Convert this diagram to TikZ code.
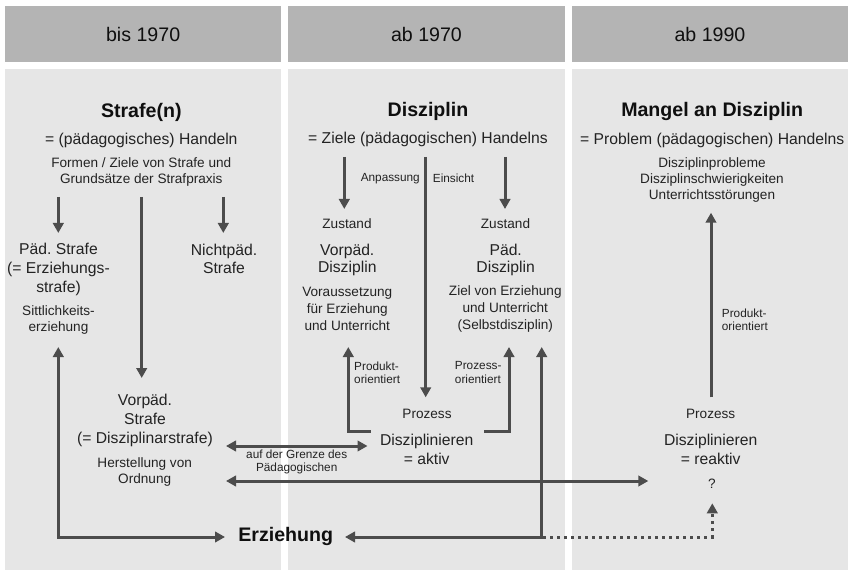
\documentclass[tikz,border=0pt]{standalone}
\usepackage{fontspec}
\setmainfont{Liberation Sans}
\usetikzlibrary{arrows.meta}
\frenchspacing
\definecolor{hdrgray}{RGB}{180,180,180}
\definecolor{bodygray}{RGB}{230,230,230}
\definecolor{arrowc}{RGB}{76,76,76}
\definecolor{txtc}{RGB}{35,35,35}
\definecolor{ttlc}{RGB}{15,15,15}
\tikzset{
  mytip/.tip={Triangle[length=10pt,width=10.5pt]},
  hdr/.style={fill=hdrgray, minimum height=56pt, inner sep=0pt, text=ttlc,
    font=\fontsize{19.6}{22}\selectfont},
  panel/.style={fill=bodygray},
  txt/.style={inner sep=0pt, align=center, text=txtc},
  ttl/.style={txt, text=ttlc, font=\bfseries\fontsize{19.6}{22}\selectfont},
  big/.style={txt, font=\fontsize{15.7}{19}\selectfont},
  bigt/.style={txt, font=\fontsize{15.7}{16.6}\selectfont},
  med/.style={txt, font=\fontsize{13.6}{16.3}\selectfont},
  sml/.style={txt, font=\fontsize{11.8}{13.4}\selectfont},
  arr/.style={draw=arrowc, line width=3pt, -mytip},
  dbl/.style={draw=arrowc, line width=3pt, mytip-mytip},
  dotarr/.style={draw=arrowc, line width=3pt, dash pattern=on 3pt off 4pt, -mytip},
}
\begin{document}
\begin{tikzpicture}[x=1pt,y=-1pt]
\useasboundingbox (0,0) rectangle (849,572);
% header boxes
\node[hdr, minimum width=275.7pt] (H1) at (143.15,34) {bis 1970};
\node[hdr, minimum width=277pt] (H2) at (426.5,34) {ab 1970};
\node[hdr, minimum width=276pt] (H3) at (710,34) {ab 1990};
% body panels
\fill[panel] (5.3,69.3) rectangle (281,570);
\fill[panel] (288,69.3) rectangle (565,570);
\fill[panel] (572,69.3) rectangle (848,570);

% ---------- column 1 ----------
\node[ttl] (t1) at (141.3,112.7) {Strafe(n)};
\node[big] (h1) at (141.3,140) {= (pädagogisches) Handeln};
\node[med] (f1) at (141.3,172) {Formen / Ziele von Strafe und\\Grundsätze der Strafpraxis};
\node[big] (p1) at (58.5,269) {Päd. Strafe\\(= Erziehungs-\\strafe)};
\node[med] (s1) at (58.5,320) {Sittlichkeits-\\erziehung};
\node[big, font=\fontsize{15.7}{18.5}\selectfont] (n1) at (224,259) {Nichtpäd.\\Strafe};
\node[big, font=\fontsize{15.7}{18.8}\selectfont] (v1) at (145,420.3) {Vorpäd.\\Strafe\\(= Disziplinarstrafe)};
\node[med] (o1) at (144.7,472) {Herstellung von\\Ordnung};
\node[sml] (g1) at (296.7,462.2) {auf der Grenze des\\Pädagogischen};
\node[ttl] (erz) at (285.7,536) {Erziehung};

% ---------- column 2 ----------
\node[ttl] (t2) at (428,111.7) {Disziplin};
\node[big] (h2) at (428,139) {= Ziele (pädagogischen) Handelns};
\node[sml, anchor=east] (an) at (420,178.3) {Anpassung};
\node[sml, anchor=west] (ei) at (432.7,178.3) {Einsicht};
\node[med] (z2a) at (347,224) {Zustand};
\node[med] (z2b) at (505.5,224) {Zustand};
\node[bigt] (vd) at (347.3,260) {Vorpäd.\\Disziplin};
\node[bigt] (pd) at (505.7,260) {Päd.\\Disziplin};
\node[med, font=\fontsize{13.6}{16.7}\selectfont] (vo) at (347.3,309) {Voraussetzung\\für Erziehung\\und Unterricht};
\node[med, font=\fontsize{13.6}{16.7}\selectfont] (zi) at (505.3,309) {Ziel von Erziehung\\und Unterricht\\(Selbstdisziplin)};
\node[sml, anchor=west, align=left] (pk) at (354,372.5) {Produkt-\\orientiert};
\node[sml, anchor=east, align=left] (pz) at (501.7,372.5) {Prozess-\\orientiert};
\node[med] (pr2) at (427,414.3) {Prozess};
\node[big, font=\fontsize{15.7}{19.3}\selectfont] (di2) at (426.7,449.7) {Disziplinieren\\= aktiv};

% ---------- column 3 ----------
\node[ttl] (t3) at (712.2,111.7) {Mangel an Disziplin};
\node[big] (h3) at (712.2,140) {= Problem (pädagogischen) Handelns};
\node[med] (dp) at (712,180) {Disziplinprobleme\\Disziplinschwierigkeiten\\Unterrichtsstörungen};
\node[sml, anchor=west, align=left] (pk3) at (721.7,320) {Produkt-\\orientiert};
\node[med] (pr3) at (710.7,414.3) {Prozess};
\node[big, font=\fontsize{15.7}{19.3}\selectfont] (di3) at (710.7,449.5) {Disziplinieren\\= reaktiv};
\node[med] (q) at (712,483.3) {?};

% ---------- connector end points ----------
\coordinate (a1s) at (58.3,197);   \coordinate (a1e) at (58.3,233);
\coordinate (a2s) at (223.3,197);  \coordinate (a2e) at (223.3,233);
\coordinate (a3s) at (141.7,197);  \coordinate (a3e) at (141.7,378);
\coordinate (sitt) at (58.3,347);  \coordinate (erzL) at (225,537);
\coordinate (grL) at (226,446);    \coordinate (grR) at (367.5,446);
\coordinate (loL) at (226,481);    \coordinate (loR) at (648.3,481);
\coordinate (b1s) at (344.3,157);  \coordinate (b1e) at (344.3,209);
\coordinate (b2s) at (505,157);    \coordinate (b2e) at (505,209);
\coordinate (b3s) at (425.7,157);  \coordinate (b3e) at (425.7,397.3);
\coordinate (pkS) at (370.7,431);  \coordinate (pkE) at (348.3,347);
\coordinate (pzS) at (484,431);    \coordinate (pzE) at (509,347);
\coordinate (selb) at (541.7,347); \coordinate (erzR) at (345,537);
\coordinate (corn) at (543.2,537); \coordinate (qtip) at (712.3,503.3);
\coordinate (c3s) at (711,397.3);  \coordinate (c3e) at (711,212.7);

% ---------- connectors ----------
\draw[arr] (a1s) -- (a1e);
\draw[arr] (a2s) -- (a2e);
\draw[arr] (a3s) -- (a3e);
\draw[dbl] (sitt) |- (erzL);
\draw[dbl] (grL) -- (grR);
\draw[dbl] (loL) -- (loR);
\draw[arr] (b1s) -- (b1e);
\draw[arr] (b2s) -- (b2e);
\draw[arr] (b3s) -- (b3e);
\draw[arr] (pkS) -| (pkE);
\draw[arr] (pzS) -| (pzE);
\draw[dbl] (selb) |- (erzR);
\draw[dotarr] (corn) -| (qtip);
\draw[arr] (c3s) -- (c3e);
\end{tikzpicture}
\end{document}
